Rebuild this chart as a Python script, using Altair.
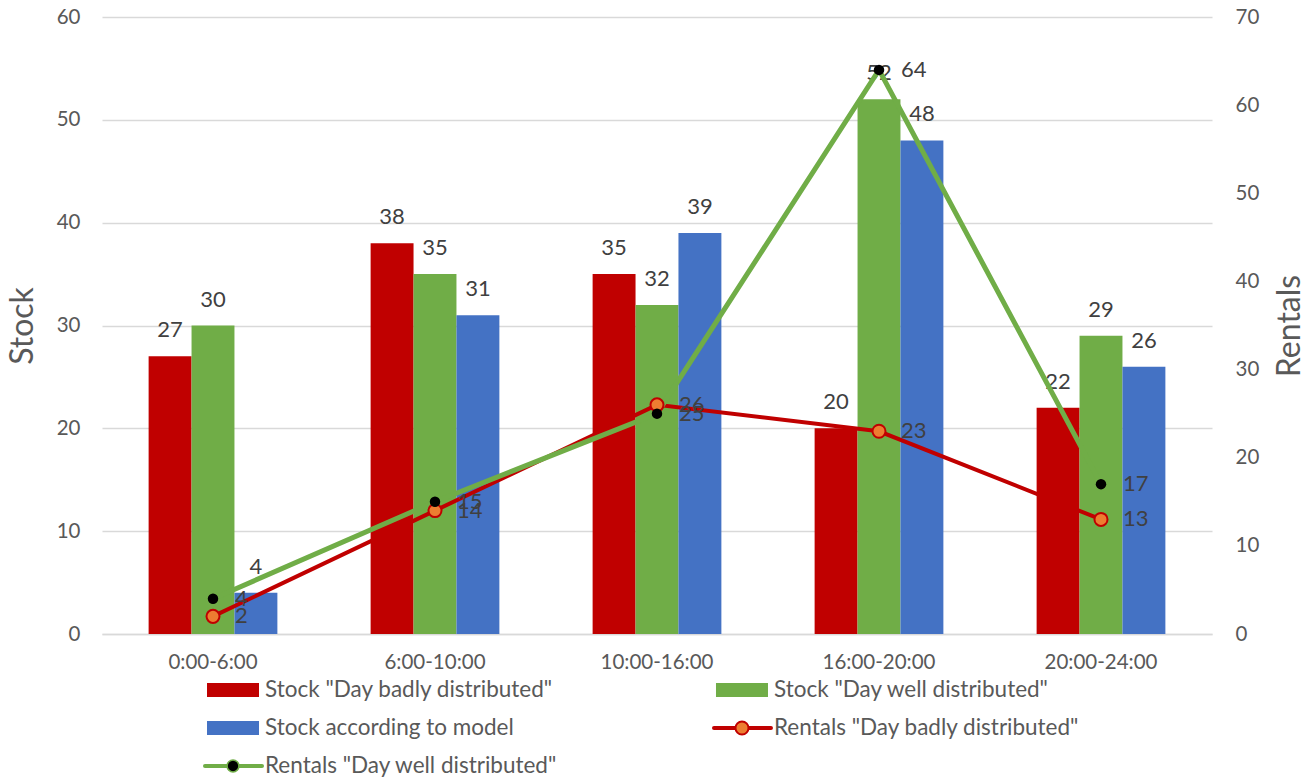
import altair as alt
import pandas as pd

# ---------------- data ----------------
slots = ["0:00-6:00", "6:00-10:00", "10:00-16:00", "16:00-20:00", "20:00-24:00"]
stock_bad = [27, 38, 35, 20, 22]
stock_well = [30, 35, 32, 52, 29]
stock_model = [4, 31, 39, 48, 26]
rentals_bad = [2, 14, 26, 23, 13]
rentals_well = [4, 15, 25, 64, 17]

bar_series = ['Stock "Day badly distributed"', 'Stock "Day well distributed"', 'Stock according to model']
line_series = ['Rentals "Day badly distributed"', 'Rentals "Day well distributed"']
legend_order = [bar_series[0], bar_series[1], bar_series[2], line_series[0], line_series[1]]

# ---------------- styles ----------------
RED = "#C00000"
GREEN = "#70AD47"
BLUE = "#4472C4"
ORANGE = "#ED7D31"
GRID = "#D9D9D9"
AXIS_TXT = "#595959"
LABEL_TXT = "#404040"
FONT = "Lato"
TICK_FS = 20.5
DATA_FS = 22
LEG_FS = 22.5
TITLE_FS = 32

bar_df = pd.DataFrame({
    "slot": slots * 3,
    "series": [s for s in bar_series for _ in slots],
    "value": stock_bad + stock_well + stock_model,
})
line_df = pd.DataFrame({
    "slot": slots * 2,
    "series": [s for s in line_series for _ in slots],
    "value": rentals_bad + rentals_well,
})
legend_df = pd.DataFrame({"label": legend_order})

xscale = alt.Scale(domain=slots, paddingInner=0.42, paddingOuter=0.21)
x_enc = alt.X(
    "slot:N", scale=xscale, title=None, sort=slots,
    axis=alt.Axis(labelAngle=0, labelFontSize=TICK_FS, labelColor=AXIS_TXT, labelFont=FONT,
                  labelPadding=18, ticks=False, domainColor=GRID, domainWidth=1.5),
)
xoff = alt.XOffset("series:N", scale=alt.Scale(domain=bar_series, paddingInner=0, paddingOuter=0))

y_stock = alt.Y(
    "value:Q", scale=alt.Scale(domain=[0, 60], nice=False), title="Stock",
    axis=alt.Axis(values=list(range(0, 61, 10)), grid=True, gridColor=GRID, gridWidth=1.5,
                  domain=False, ticks=False, labelFontSize=TICK_FS, labelColor=AXIS_TXT, labelFont=FONT,
                  labelPadding=22, titleFontSize=TITLE_FS, titleFont=FONT, titleColor=AXIS_TXT,
                  titleFontWeight="normal", titlePadding=17),
)
y_rent = alt.Y(
    "value:Q", scale=alt.Scale(domain=[0, 70], nice=False), title="Rentals",
    axis=alt.Axis(orient="right", values=list(range(0, 71, 10)), grid=False,
                  domain=False, ticks=False, labelFontSize=TICK_FS, labelColor=AXIS_TXT, labelFont=FONT,
                  labelAlign="left", labelPadding=23, titleFontSize=TITLE_FS, titleFont=FONT,
                  titleColor=AXIS_TXT, titleFontWeight="normal", titlePadding=16,
                  titleAngle=270, titleBaseline="top"),
)

bars = alt.Chart(bar_df).mark_bar().encode(
    x=x_enc, xOffset=xoff, y=y_stock,
    color=alt.Color("series:N", scale=alt.Scale(domain=bar_series, range=[RED, GREEN, BLUE]), legend=None),
)
bar_labels = alt.Chart(bar_df).mark_text(
    baseline="bottom", dy=-14, fontSize=DATA_FS, color=LABEL_TXT, font=FONT
).encode(x=x_enc, xOffset=xoff, y=y_stock, text="value:Q")

bad_filter = alt.datum.series == line_series[0]
well_filter = alt.datum.series == line_series[1]

red_line = alt.Chart(line_df).transform_filter(bad_filter).mark_line(
    color=RED, strokeWidth=4).encode(x=x_enc, y=y_rent)
green_line = alt.Chart(line_df).transform_filter(well_filter).mark_line(
    color=GREEN, strokeWidth=5).encode(x=x_enc, y=y_rent)
red_pts = alt.Chart(line_df).transform_filter(bad_filter).mark_point(
    filled=True, fill=ORANGE, stroke=RED, strokeWidth=2, size=170, opacity=1).encode(x=x_enc, y=y_rent)
green_pts = alt.Chart(line_df).transform_filter(well_filter).mark_point(
    filled=True, fill="black", stroke="black", strokeWidth=0, size=110, opacity=1).encode(x=x_enc, y=y_rent)
line_labels = alt.Chart(line_df).mark_text(
    align="left", baseline="middle", dx=22, fontSize=DATA_FS, color=LABEL_TXT, font=FONT
).encode(x=x_enc, y=y_rent, text="value:Q")

top = alt.layer(
    alt.layer(bars, bar_labels),
    alt.layer(red_line, green_line, red_pts, green_pts, line_labels),
).resolve_scale(y="independent").properties(width=1110, height=617)

# ---------------- legend panel ----------------
lx = alt.X("col:Q", scale=alt.Scale(domain=[-0.2063, 1.9745], nice=False, zero=False), axis=None)
ly = alt.Y("row:Q", scale=alt.Scale(domain=[-0.447, 2.185], nice=False, zero=False, reverse=True), axis=None)

leg_base = alt.Chart(legend_df).transform_window(
    idx="row_number()"
).transform_calculate(
    col="(datum.idx - 1) % 2", row="floor((datum.idx - 1) / 2)"
)
leg_color = alt.Color("label:N", scale=alt.Scale(domain=legend_order, range=[RED, GREEN, BLUE, RED, GREEN]), legend=None)

leg_rects = leg_base.transform_filter(
    alt.FieldOneOfPredicate(field="label", oneOf=bar_series)
).mark_rule(strokeWidth=14, strokeCap="butt", x2Offset=52).encode(x=lx, x2="col:Q", y=ly, color=leg_color)
leg_lines = leg_base.transform_filter(
    alt.FieldOneOfPredicate(field="label", oneOf=line_series)
).mark_rule(strokeWidth=4, strokeCap="round", xOffset=-2, x2Offset=55).encode(x=lx, x2="col:Q", y=ly, color=leg_color)
leg_pt_bad = leg_base.transform_filter(alt.datum.label == line_series[0]).mark_point(
    filled=True, fill=ORANGE, stroke=RED, strokeWidth=2, size=170, opacity=1, xOffset=26).encode(x=lx, y=ly)
leg_pt_well = leg_base.transform_filter(alt.datum.label == line_series[1]).mark_point(
    filled=True, fill="black", stroke=GREEN, strokeWidth=1.5, size=140, opacity=1, xOffset=26).encode(x=lx, y=ly)
leg_text = leg_base.mark_text(
    align="left", baseline="middle", dx=58, fontSize=LEG_FS, color=AXIS_TXT, font=FONT
).encode(x=lx, y=ly, text="label:N")

legend = alt.layer(leg_rects, leg_lines, leg_pt_bad, leg_pt_well, leg_text).properties(width=1110, height=100)

chart = alt.vconcat(top, legend, spacing=0).configure_view(stroke=None).properties(
    padding={"left": 6, "top": 7, "right": 0, "bottom": 0}
)

chart.save("out.html", embed_options={"renderer": "svg", "actions": False})
